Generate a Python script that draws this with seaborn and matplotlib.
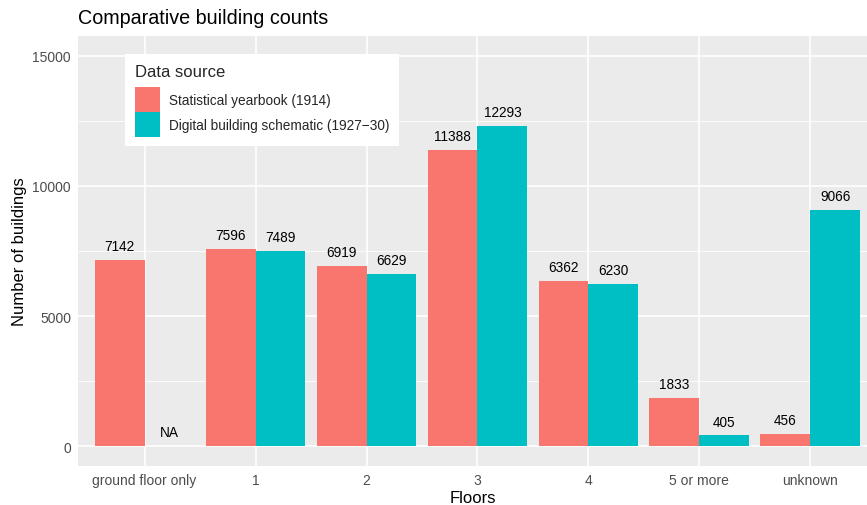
import numpy as np
import pandas as pd
import matplotlib
matplotlib.use("Agg")
import matplotlib.pyplot as plt
from matplotlib.patches import Patch
import seaborn as sns

floors = ["ground floor only", "1", "2", "3", "4", "5 or more", "unknown"]
yearbook_1914 = [7142, 7596, 6919, 11388, 6362, 1833, 456]
schematic_1927 = [None, 7489, 6629, 12293, 6230, 405, 9066]
sources = ["Statistical yearbook (1914)", "Digital building schematic (1927\u221230)"]
colors = ["#F8766D", "#00BFC4"]
y_ticks = [0, 5000, 10000, 15000]

rows = []
for f, v in zip(floors, yearbook_1914):
    rows.append({"Floors": f, "source": sources[0], "value": v})
for f, v in zip(floors, schematic_1927):
    rows.append({"Floors": f, "source": sources[1], "value": v})
df = pd.DataFrame(rows)
df["plot_value"] = df["value"].fillna(0).astype(float)
df["label"] = df["value"].apply(lambda v: "NA" if v is None or pd.isna(v) else str(int(v)))

sns.set_style("darkgrid", {"axes.facecolor": "#EBEBEB", "grid.color": "white"})
plt.rcParams["font.family"] = ["Liberation Sans", "DejaVu Sans"]

W, H = 867, 506
fig = plt.figure(figsize=(W / 100, H / 100), dpi=100)
fig.patch.set_facecolor("white")
ax = fig.add_axes([78 / W, 39 / H, (W - 78) / W, 430 / H])

sns.barplot(data=df, x="Floors", y="plot_value", hue="source", order=floors,
            hue_order=sources, palette=colors, width=0.9, gap=0, dodge=True,
            saturation=1, errorbar=None, ax=ax, linewidth=0, edgecolor="none",
            legend=False)

for cont, src in zip(ax.containers, sources):
    labs = [df[(df["source"] == src) & (df["Floors"] == f)]["label"].iloc[0] for f in floors]
    ax.bar_label(cont, labels=labs, padding=5, fontsize=9.8, color="black")

ax.set_xlim(-0.6, 6.51)
ax.set_ylim(-769, 15769)
ax.set_yticks(y_ticks)
ax.set_yticklabels([str(t) for t in y_ticks])
ax.set_yticks([2500, 7500, 12500], minor=True)
ax.grid(True, which="major", color="white", linewidth=1.2)
ax.grid(True, which="minor", axis="y", color="white", linewidth=0.6)
ax.set_axisbelow(True)
for s in ax.spines.values():
    s.set_visible(False)
ax.tick_params(axis="both", which="major", length=3, width=0.8, color="#333333",
               labelcolor="#4D4D4D", labelsize=10, pad=2)
ax.tick_params(axis="both", which="minor", length=0)

ax.set_xlabel("Floors", fontsize=12, color="black", labelpad=2)
ax.set_ylabel("Number of buildings", fontsize=12, color="black", labelpad=4)
fig.text(78 / W, 1 - 18 / H, "Comparative building counts", fontsize=14.2,
         color="black", ha="left", va="center")

handles = [Patch(facecolor=c, edgecolor="none", linewidth=0) for c in colors]
fs_px = 9.8 * 100 / 72
hh = (25 / fs_px - 0.245) / 0.65
leg = ax.legend(handles=handles, labels=sources, title="Data source", loc="upper left",
                bbox_to_anchor=(125 / W, 1 - 55 / H), bbox_transform=fig.transFigure,
                fontsize=9.8, title_fontsize=12, frameon=True, fancybox=False,
                borderpad=0.7, handlelength=25 / fs_px, handleheight=hh,
                handletextpad=0.68, labelspacing=0.0, borderaxespad=0,
                alignment="left")
leg.get_frame().set_facecolor("white")
leg.get_frame().set_edgecolor("white")
leg.get_frame().set_linewidth(0)
leg.get_frame().set_alpha(1)
leg._legend_box.sep = 6

fig.savefig("out.png", dpi=100)
